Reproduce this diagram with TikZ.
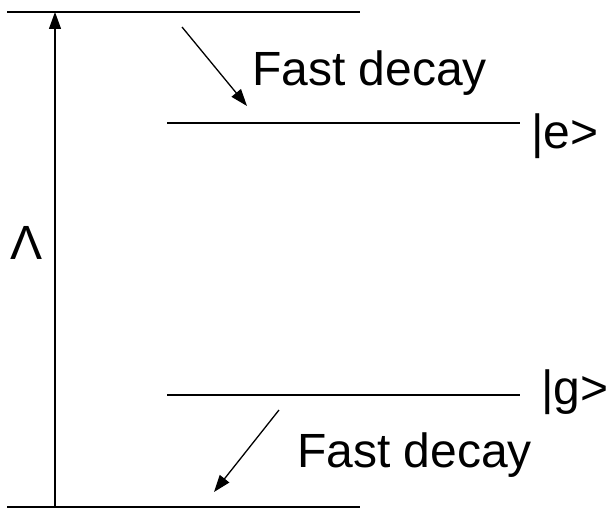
\documentclass[tikz,border=0pt]{standalone}
\usepackage{fontspec}
\setmainfont{Liberation Sans}
\usetikzlibrary{arrows.meta}
\begin{document}
\begin{tikzpicture}[x=1pt,y=-1pt,
  level/.style={line width=1.6pt},
  decay/.style={line width=1.3pt,-{Triangle[length=17pt,width=12pt]}},
  lbl/.style={inner sep=0pt,font=\fontsize{48}{52}\selectfont}]
\useasboundingbox (0,0) rectangle (608,511);
% level endpoints
\coordinate (tl) at (7,12);   \coordinate (tr) at (360,12);
\coordinate (bl) at (7,507);  \coordinate (br) at (360,507);
\coordinate (el) at (167,123); \coordinate (er) at (520,123);
\coordinate (gl) at (167,395); \coordinate (gr) at (520,395);
\draw[level] (tl) -- (tr);
\draw[level] (bl) -- (br);
\draw[level] (el) -- (er);
\draw[level] (gl) -- (gr);
% Lambda arrow
\coordinate (pa) at (55,507); \coordinate (pb) at (55,12);
\draw[decay] (pa) -- (pb);
\node[lbl] (lam) at (27,243) {Λ};
% decays
\coordinate (d1s) at (182,27); \coordinate (d1e) at (247,106);
\draw[decay] (d1s) -- (d1e);
\node[lbl,anchor=base west] (f1) at (252,85) {Fast decay};
\coordinate (d2s) at (279,410); \coordinate (d2e) at (214,492);
\draw[decay] (d2s) -- (d2e);
\node[lbl,anchor=base west] (f2) at (297,467) {Fast decay};
% state labels
\node[lbl,anchor=base west] (e) at (531,148) {|e>};
\node[lbl,anchor=base west] (g) at (541,404) {|g>};
\end{tikzpicture}
\end{document}
